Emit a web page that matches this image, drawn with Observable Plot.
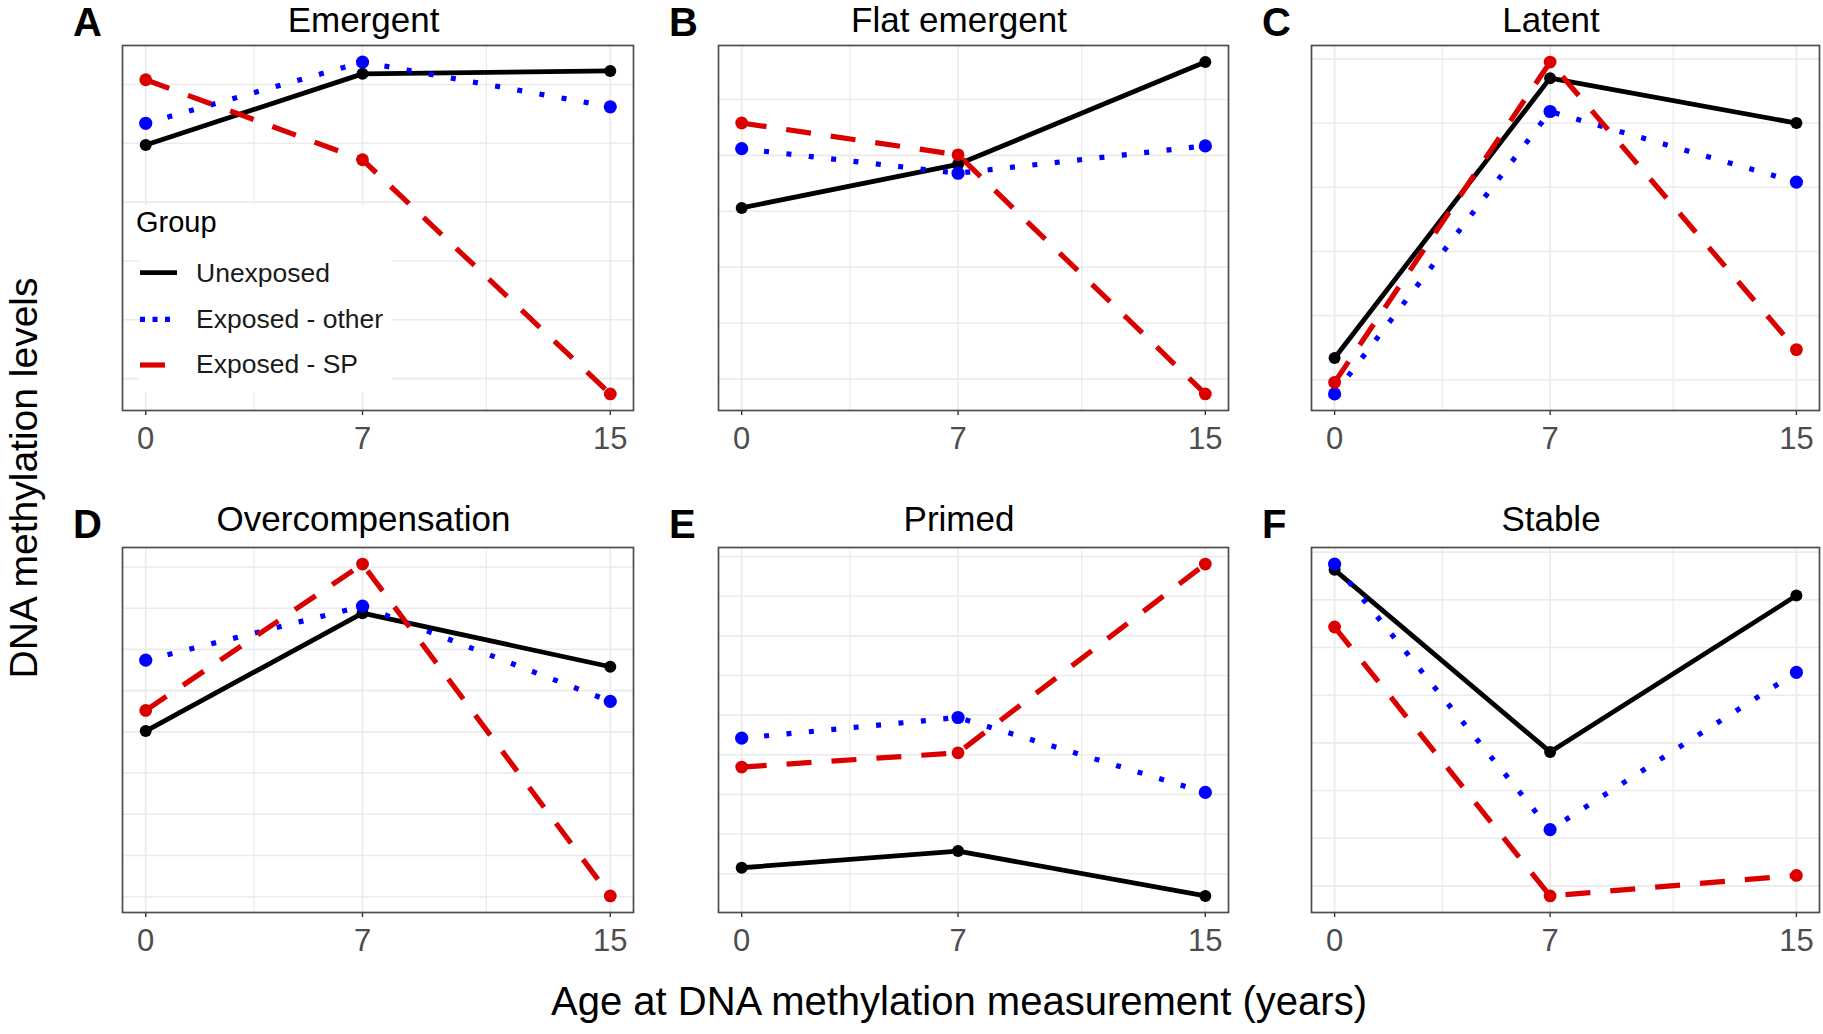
<!DOCTYPE html>
<html>
<head>
<meta charset="utf-8">
<script src="https://cdn.jsdelivr.net/npm/d3@7"></script>
<script src="https://cdn.jsdelivr.net/npm/@observablehq/plot@0.6"></script>
<style>
  html, body { margin: 0; padding: 0; background: #ffffff; }
  #fig { position: relative; width: 1823px; height: 1034px; overflow: hidden;
         font-family: "Liberation Sans", Arial, Helvetica, sans-serif; background: #fff; }
  #fig svg.panel { position: absolute; }
  #overlay { position: absolute; left: 0; top: 0; pointer-events: none; }
</style>
</head>
<body>
<div id="fig"></div>
<script>
// ---------------- data (arbitrary units, no y labels) ----------------
const ages = [0, 7, 15];                 // x tick values / measurement ages
const xMinorGrid = [3.5, 11];            // minor vertical grid values
const groups = ["Unexposed", "Exposed - other", "Exposed - SP"];
const letters = ["A", "B", "C", "D", "E", "F"];
const titles = ["Emergent", "Flat emergent", "Latent", "Overcompensation", "Primed", "Stable"];

// one row per panel (A..F), values at ages 0, 7, 15
const unexposed = [
  [4.97, 6.18, 6.23],
  [4.06, 4.84, 6.67],
  [1.34, 5.70, 5.00],
  [5.02, 7.88, 6.58],
  [1.15, 1.57, 0.44],
  [7.63, 3.81, 7.09]
];
const exposedOther = [
  [5.34, 6.38, 5.62],
  [5.12, 4.68, 5.17],
  [0.78, 5.18, 4.08],
  [6.74, 8.05, 5.74],
  [4.42, 4.94, 3.05],
  [7.75, 2.18, 5.48]
];
const exposedSP = [
  [6.08, 4.72, 0.74],
  [5.58, 5.01, 0.73],
  [0.96, 5.95, 1.47],
  [5.52, 9.07, 1.02],
  [3.69, 4.05, 8.81],
  [6.43, 0.79, 1.22]
];
// horizontal grid-line values per panel (unlabelled y breaks)
const yGrid = [
  [1, 2, 3, 4, 5, 6],
  [1, 2, 3, 4, 5, 6],
  [1, 2, 3, 4, 5, 6],
  [1, 2, 3, 4, 5, 6, 7, 8, 9],
  [1, 2, 3, 4, 5, 6, 7, 8, 9],
  [1, 2, 3, 4, 5, 6, 7, 8]
];

// ---------------- styles ----------------
const seriesByGroup = [unexposed, exposedOther, exposedSP];
const colors = ["#000000", "#0000FF", "#DA0000"];
const dashes = [null, "5,17.5", "25,20"];
const legendDashes = [null, "5,7.5", "25,20"];
const lineWidths = [4.8, 5.2, 5.2];
const dotR = [6, 6.6, 6.4];
const FONT = '"Liberation Sans", Arial, Helvetica, sans-serif';

// ---------------- layout ----------------
const colLeft = [122, 718, 1311];
const colWidth = [511, 510, 508];
const rowTop = [45, 546.7];
const panelH = 365;
const M = 2, MB = 50;

const fig = document.getElementById("fig");

letters.forEach((letter, i) => {
  const row = Math.floor(i / 3), col = i % 3;
  const rows = groups.flatMap((g, gi) =>
    ages.map((a, ai) => ({group: g, age: a, value: seriesByGroup[gi][i][ai]})));
  const vals = rows.map(r => r.value);
  const lo = d3.min(vals), hi = d3.max(vals), r = hi - lo;
  const yDomain = [lo - 0.05 * r, hi + 0.05 * r];  // ggplot-style 5% expansion

  const marks = [
    Plot.gridX(xMinorGrid, {stroke: "#EBEBEB", strokeOpacity: 1, strokeWidth: 1.2}),
    Plot.gridX(ages, {stroke: "#EBEBEB", strokeOpacity: 1, strokeWidth: 1.7}),
    Plot.gridY(yGrid[i], {stroke: "#EBEBEB", strokeOpacity: 1, strokeWidth: 1.6}),
    Plot.axisX(ages, {tickSize: 5, tickPadding: 11, stroke: "#333333", strokeWidth: 1.4,
      fill: "#4D4D4D", fontSize: 31, label: null, tickFormat: d => String(d)}),
    ...groups.map((g, gi) => Plot.line(rows.filter(d => d.group === g), {
      x: "age", y: "value", stroke: colors[gi], strokeWidth: lineWidths[gi],
      strokeDasharray: dashes[gi], strokeLinecap: "butt", strokeLinejoin: "round"
    })),
    ...groups.map((g, gi) => Plot.dot(rows.filter(d => d.group === g), {
      x: "age", y: "value", fill: colors[gi], stroke: "none", r: dotR[gi]
    })),
    Plot.frame({stroke: "#4D4D4D", strokeWidth: 1.7})
  ];

  const svg = Plot.plot({
    width: colWidth[col] + 2 * M,
    height: panelH + M + MB,
    marginTop: M, marginLeft: M, marginRight: M, marginBottom: MB,
    x: {domain: [-0.75, 15.75], axis: null, label: null},
    y: {domain: yDomain, axis: null, label: null},
    style: {background: "transparent", fontFamily: FONT, fontSize: "31px", overflow: "visible"},
    marks
  });
  svg.classList.add("panel");
  svg.style.left = (colLeft[col] - M) + "px";
  svg.style.top = (rowTop[row] - M) + "px";
  fig.appendChild(svg);
});

// ---------------- overlay: titles, letters, axis titles, legend ----------------
const ns = "http://www.w3.org/2000/svg";
const ov = document.createElementNS(ns, "svg");
ov.setAttribute("id", "overlay");
ov.setAttribute("width", 1823);
ov.setAttribute("height", 1034);
fig.appendChild(ov);

function txt(str, x, y, opts = {}) {
  const t = document.createElementNS(ns, "text");
  t.textContent = str;
  t.setAttribute("x", x);
  t.setAttribute("y", y);
  t.setAttribute("font-family", FONT);
  t.setAttribute("font-size", opts.size || 29);
  t.setAttribute("fill", opts.fill || "#000");
  if (opts.weight) t.setAttribute("font-weight", opts.weight);
  if (opts.anchor) t.setAttribute("text-anchor", opts.anchor);
  if (opts.transform) t.setAttribute("transform", opts.transform);
  ov.appendChild(t);
  return t;
}

const titleBase = [32, 531];
const letterBase = [36, 538];
letters.forEach((letter, i) => {
  const row = Math.floor(i / 3), col = i % 3;
  txt(letter, colLeft[col] - 49, letterBase[row], {size: 40, weight: "bold"});
  txt(titles[i], colLeft[col] + colWidth[col] / 2 - 14, titleBase[row], {size: 35, anchor: "middle"});
});

// axis titles
txt("Age at DNA methylation measurement (years)", 959, 1015, {size: 40, anchor: "middle"});
txt("DNA methylation levels", 0, 0, {size: 39, anchor: "middle", transform: "translate(37,478) rotate(-90)"});

// legend inside panel A
const bg = document.createElementNS(ns, "rect");
bg.setAttribute("x", 139); bg.setAttribute("y", 205);
bg.setAttribute("width", 253); bg.setAttribute("height", 187);
bg.setAttribute("fill", "#ffffff");
ov.appendChild(bg);
txt("Group", 136, 232, {size: 29});
const keyY = [272.7, 319.3, 365];
const labBase = [281.7, 328.3, 373.3];
groups.forEach((g, gi) => {
  const l = document.createElementNS(ns, "line");
  l.setAttribute("x1", 140); l.setAttribute("x2", 177);
  l.setAttribute("y1", keyY[gi]); l.setAttribute("y2", keyY[gi]);
  l.setAttribute("stroke", colors[gi]);
  l.setAttribute("stroke-width", lineWidths[gi]);
  if (legendDashes[gi]) l.setAttribute("stroke-dasharray", legendDashes[gi]);
  l.setAttribute("stroke-linecap", "butt");
  ov.appendChild(l);
  txt(g, 196, labBase[gi], {size: 26.5, fill: "#1A1A1A"});
});
</script>
</body>
</html>
